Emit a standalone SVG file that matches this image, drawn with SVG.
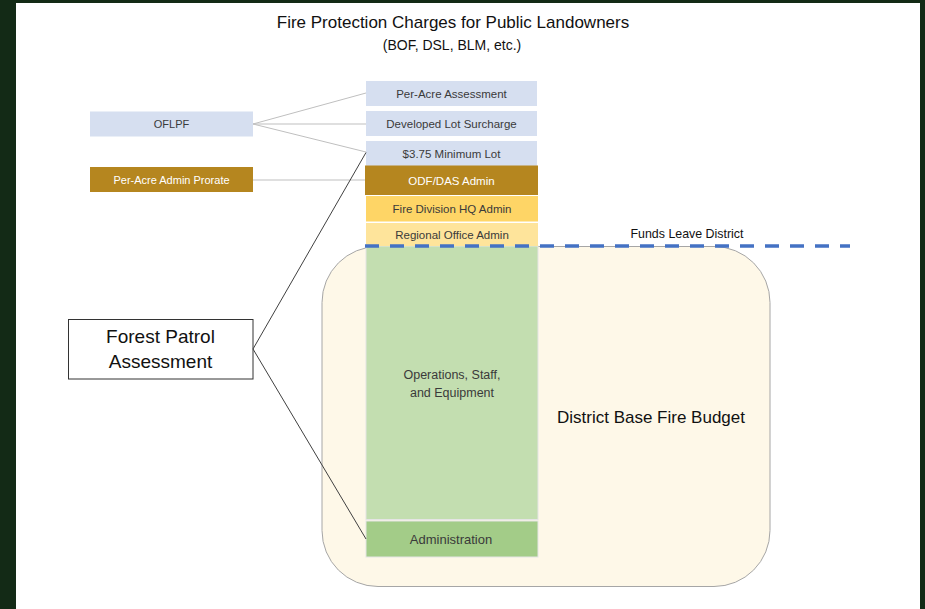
<svg xmlns="http://www.w3.org/2000/svg" width="925" height="609" viewBox="0 0 925 609">
<style>
text{font-family:"Liberation Sans",Arial,sans-serif;text-anchor:middle}
.lbl{fill:#3a3a3a;font-size:11.5px}
.wl{fill:#ffffff;font-size:11.5px}
.blue{fill:#d6dff0}
.gold{fill:#b5861f}
.conn-light{stroke:#bfbfbf;stroke-width:1;fill:none}
.conn-dark{stroke:#404040;stroke-width:1;fill:none}
</style>
<rect x="0" y="0" width="925" height="609" fill="#132a16"/>
<rect x="16" y="3" width="904" height="606" fill="#ffffff"/>
<g id="title">
<text x="453" y="28" font-size="17" fill="#111">Fire Protection Charges for Public Landowners</text>
<text x="452" y="50" font-size="14" fill="#111">(BOF, DSL, BLM, etc.)</text>
</g>
<g id="district-budget">
<rect x="322" y="246.5" width="448" height="340" rx="56" ry="56" fill="#fef8e8" stroke="#a6a6a6" stroke-width="1"/>
<text x="651" y="423" font-size="17" fill="#111">District Base Fire Budget</text>
</g>
<g id="operations">
<rect x="366" y="246" width="172" height="273.5" fill="#c3deb0" stroke="#e4e4e4" stroke-width="1"/>
<text x="452" y="379" class="lbl" font-size="12.5" style="font-size:12.5px">Operations, Staff,</text>
<text x="452" y="397" class="lbl" style="font-size:12.5px">and Equipment</text>
</g>
<g id="administration">
<rect x="366" y="521" width="172" height="36" fill="#a3cc88" stroke="#e4e4e4" stroke-width="1"/>
<text x="451" y="543.5" class="lbl" style="font-size:13px">Administration</text>
</g>
<g id="per-acre-assessment">
<rect x="366" y="81" width="171" height="25" class="blue"/>
<text x="451.5" y="97.5" class="lbl">Per-Acre Assessment</text>
</g>
<g id="developed-lot-surcharge">
<rect x="366" y="111" width="171" height="25" class="blue"/>
<text x="451.5" y="127.5" class="lbl">Developed Lot Surcharge</text>
</g>
<g id="minimum-lot">
<rect x="366" y="141" width="171" height="25" class="blue"/>
<text x="451.5" y="157.5" class="lbl">$3.75 Minimum Lot</text>
</g>
<g id="odf-das-admin">
<rect x="365" y="165.5" width="173" height="29.5" class="gold"/>
<text x="451.5" y="184.5" class="wl">ODF/DAS Admin</text>
</g>
<g id="fire-division-hq-admin">
<rect x="366" y="196" width="172" height="25.5" fill="#fed566"/>
<text x="452" y="213" class="lbl">Fire Division HQ Admin</text>
</g>
<g id="regional-office-admin">
<rect x="366" y="223" width="172" height="23" fill="#fee49b"/>
<text x="452" y="239" class="lbl">Regional Office Admin</text>
</g>
<g id="oflpf">
<rect x="90" y="111.5" width="163" height="25" class="blue"/>
<text x="171.5" y="128" class="lbl" style="font-size:11px">OFLPF</text>
</g>
<g id="per-acre-admin-prorate">
<rect x="90" y="167" width="163" height="25" class="gold"/>
<text x="171.5" y="183.5" class="wl" style="font-size:11px">Per-Acre Admin Prorate</text>
</g>
<g id="forest-patrol-assessment">
<rect x="68.5" y="319.5" width="184.5" height="59.5" fill="#ffffff" stroke="#333" stroke-width="1"/>
<text x="160.5" y="343" font-size="19" fill="#111">Forest Patrol</text>
<text x="160.5" y="368" font-size="19" fill="#111">Assessment</text>
</g>
<g id="funds-leave-district">
<text x="687" y="238" font-size="12.4" fill="#111">Funds Leave District</text>
</g>
<g id="connectors">
<line x1="253" y1="124" x2="366" y2="93" class="conn-light"/>
<line x1="253" y1="124" x2="366" y2="124" class="conn-light"/>
<line x1="253" y1="124" x2="366" y2="152" class="conn-light"/>
<line x1="253" y1="180" x2="365" y2="180" class="conn-light"/>
<line x1="253" y1="349" x2="366" y2="152.5" class="conn-dark"/>
<line x1="253" y1="349" x2="366" y2="539" class="conn-dark"/>
<line x1="365" y1="246" x2="850" y2="246" stroke="#4472c4" stroke-width="3.5" stroke-dasharray="14 11"/>
</g>
</svg>
